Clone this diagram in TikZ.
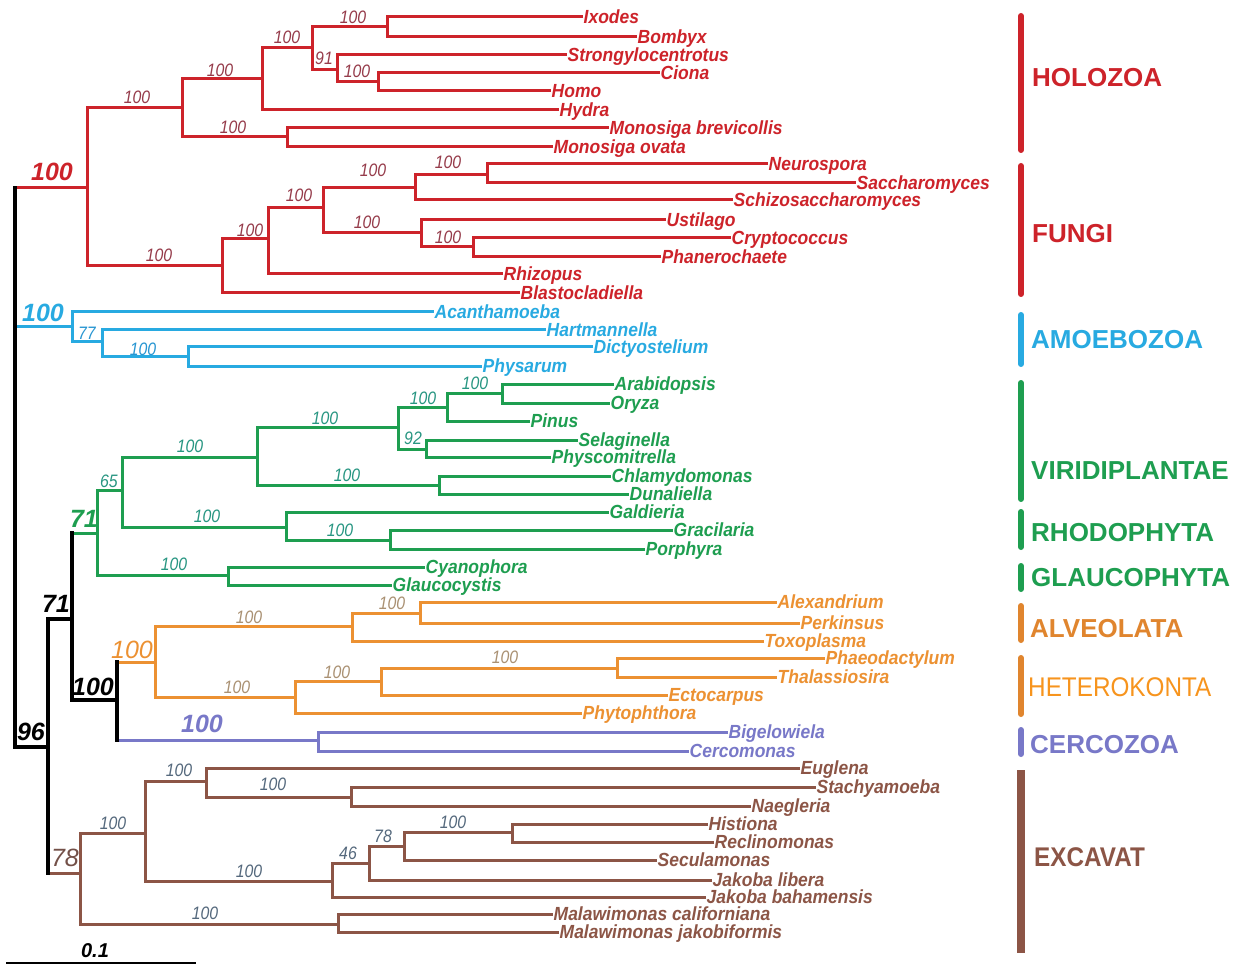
\documentclass[tikz,border=0pt]{standalone}
\usepackage{fontspec}
\setmainfont{Liberation Sans}
\newfontfamily\leaffam{Liberation Sans}[FakeStretch=0.92]
\newfontfamily\bsfam{Liberation Sans}[FakeStretch=0.88]
\newfontfamily\narfam{Liberation Sans}[FakeStretch=0.9]
\newcommand\leaffont{\leaffam\fontsize{19}{19}\selectfont\bfseries\itshape}
\newcommand\bsfont{\bsfam\fontsize{18}{18}\selectfont\itshape}
\newcommand\bbfont{\fontsize{25}{25}\selectfont\bfseries\itshape}
\newcommand\bbrfont{\fontsize{25}{25}\selectfont\itshape}
\newcommand\cladefont{\fontsize{26}{26}\selectfont\bfseries}
\definecolor{cred}{RGB}{205,35,42}
\definecolor{cblue}{RGB}{40,170,225}
\definecolor{cgreen}{RGB}{30,158,80}
\definecolor{corange}{RGB}{236,145,50}
\definecolor{calv}{RGB}{224,133,46}
\definecolor{chet}{RGB}{247,148,29}
\definecolor{cpurple}{RGB}{120,120,200}
\definecolor{cbrown}{RGB}{140,85,70}
\definecolor{lred}{RGB}{150,60,75}
\definecolor{lblue}{RGB}{40,150,210}
\definecolor{lgreen}{RGB}{40,150,130}
\definecolor{lorange}{RGB}{170,145,115}
\definecolor{lbrown}{RGB}{85,105,125}
\definecolor{bbrown}{RGB}{115,80,72}
\begin{document}
\begin{tikzpicture}[x=1pt,y=-1pt,
  br/.style={line width=3pt},
  blk/.style={line width=3.5pt,black,line cap=rect},
  leaf/.style={anchor=west,inner sep=0.5pt,font=\leaffont,text height=13.5pt,text depth=0pt},
  bs/.style={font=\bsfont,inner sep=0pt},
  bb/.style={font=\bbfont,inner sep=0pt},
  bbr/.style={font=\bbrfont,inner sep=0pt},
  clade/.style={anchor=west,inner sep=0pt,font=\cladefont,text height=18.6pt,text depth=0pt},
  cbar/.style={line width=6pt,line cap=round}]
\useasboundingbox (0,0) rectangle (1255,965);
\fill[white] (0,0) rectangle (1255,965);

% ---------- coordinates of internal nodes ----------
\coordinate (root) at (15,188);
\coordinate (opis) at (87,188);
\coordinate (holo) at (182,108);
\coordinate (h1) at (262,79);
\coordinate (h3) at (312,48);
\coordinate (h4) at (387,27);
\coordinate (h5) at (337,70);
\coordinate (h6) at (378,82);
\coordinate (h2) at (287,137);
\coordinate (fung) at (222,266);
\coordinate (f1) at (268,239);
\coordinate (f2) at (323,208);
\coordinate (f3) at (415,188);
\coordinate (f5) at (487,175);
\coordinate (f4) at (421,233);
\coordinate (f6) at (473,247);
\coordinate (amoe) at (72,327);
\coordinate (a1) at (102,342);
\coordinate (a2) at (188,357);
\coordinate (rest) at (48,747);
\coordinate (b1) at (72,619);
\coordinate (b2) at (117,700);
\coordinate (plant) at (97,533);
\coordinate (g1) at (122,490);
\coordinate (g2) at (257,457);
\coordinate (g3) at (398,427);
\coordinate (g5) at (447,407);
\coordinate (g7) at (502,393);
\coordinate (g6) at (426,449);
\coordinate (g4) at (439,485);
\coordinate (rhod) at (286,527);
\coordinate (r1) at (390,540);
\coordinate (glau) at (228,575);
\coordinate (sar) at (155,662);
\coordinate (alv) at (352,626);
\coordinate (al1) at (420,613);
\coordinate (het) at (295,697);
\coordinate (he1) at (381,681);
\coordinate (he2) at (617,668);
\coordinate (cerc) at (318,740);
\coordinate (exc) at (80,873);
\coordinate (e1) at (145,833);
\coordinate (e2) at (206,781);
\coordinate (e4) at (351,797);
\coordinate (e3) at (332,881);
\coordinate (e5) at (369,863);
\coordinate (e6) at (404,846);
\coordinate (e7) at (512,832);
\coordinate (mal) at (338,924);

% ---------- leaves ----------
\begin{scope}[every node/.style={leaf,text=cred}]
\node (ixo) at (583,17) {Ixodes};
\node (bom) at (637,37) {Bombyx};
\node (str) at (567,55) {Strongylocentrotus};
\node (cio) at (660,73) {Ciona};
\node (hom) at (551,91) {Homo};
\node (hyd) at (559,110) {Hydra};
\node (mbr) at (609,128) {Monosiga brevicollis};
\node (mov) at (553,147) {Monosiga ovata};
\node (neu) at (768,164) {Neurospora};
\node (sac) at (856,183) {Saccharomyces};
\node (sch) at (733,200) {Schizosaccharomyces};
\node (ust) at (666,220) {Ustilago};
\node (cry) at (731,238) {Cryptococcus};
\node (pha) at (661,257) {Phanerochaete};
\node (rhi) at (503,274) {Rhizopus};
\node (bla) at (520,293) {Blastocladiella};
\end{scope}
\begin{scope}[every node/.style={leaf,text=cblue}]
\node (aca) at (434,312) {Acanthamoeba};
\node (har) at (546,330) {Hartmannella};
\node (dic) at (593,347) {Dictyostelium};
\node (phy) at (482,366) {Physarum};
\end{scope}
\begin{scope}[every node/.style={leaf,text=cgreen}]
\node (ara) at (614,384) {Arabidopsis};
\node (ory) at (610,403) {Oryza};
\node (pin) at (530,421) {Pinus};
\node (sel) at (578,440) {Selaginella};
\node (phs) at (551,457) {Physcomitrella};
\node (chl) at (611,476) {Chlamydomonas};
\node (dun) at (629,494) {Dunaliella};
\node (gal) at (609,512) {Galdieria};
\node (gra) at (673,530) {Gracilaria};
\node (por) at (645,549) {Porphyra};
\node (cya) at (425,567) {Cyanophora};
\node (gla) at (392,585) {Glaucocystis};
\end{scope}
\begin{scope}[every node/.style={leaf,text=corange}]
\node (ale) at (777,602) {Alexandrium};
\node (per) at (800,623) {Perkinsus};
\node (tox) at (764,641) {Toxoplasma};
\node (phd) at (825,658) {Phaeodactylum};
\node (tha) at (777,677) {Thalassiosira};
\node (ect) at (668,695) {Ectocarpus};
\node (pht) at (582,713) {Phytophthora};
\end{scope}
\begin{scope}[every node/.style={leaf,text=cpurple}]
\node (big) at (728,732) {Bigelowiela};
\node (cer) at (689,751) {Cercomonas};
\end{scope}
\begin{scope}[every node/.style={leaf,text=cbrown}]
\node (eug) at (800,768) {Euglena};
\node (sta) at (816,787) {Stachyamoeba};
\node (nae) at (751,806) {Naegleria};
\node (his) at (708,824) {Histiona};
\node (rec) at (714,842) {Reclinomonas};
\node (sec) at (657,860) {Seculamonas};
\node (jli) at (712,880) {Jakoba libera};
\node (jba) at (706,897) {Jakoba bahamensis};
\node (mca) at (553,914) {Malawimonas californiana};
\node (mja) at (559,932) {Malawimonas jakobiformis};
\end{scope}

% ---------- branches ----------
\begin{scope}[br,cred]
\draw (root|-opis) -- (opis);
\draw (opis) |- (holo); \draw (opis) |- (fung);
\draw (holo) |- (h1); \draw (holo) |- (h2);
\draw (h1) |- (h3); \draw (h1) |- (hyd.west);
\draw (h3) |- (h4); \draw (h3) |- (h5);
\draw (h4) |- (ixo.west); \draw (h4) |- (bom.west);
\draw (h5) |- (str.west); \draw (h5) |- (h6);
\draw (h6) |- (cio.west); \draw (h6) |- (hom.west);
\draw (h2) |- (mbr.west); \draw (h2) |- (mov.west);
\draw (fung) |- (f1); \draw (fung) |- (bla.west);
\draw (f1) |- (f2); \draw (f1) |- (rhi.west);
\draw (f2) |- (f3); \draw (f2) |- (f4);
\draw (f3) |- (f5); \draw (f3) |- (sch.west);
\draw (f5) |- (neu.west); \draw (f5) |- (sac.west);
\draw (f4) |- (ust.west); \draw (f4) |- (f6);
\draw (f6) |- (cry.west); \draw (f6) |- (pha.west);
\end{scope}
\begin{scope}[br,cblue]
\draw (root|-amoe) -- (amoe);
\draw (amoe) |- (aca.west); \draw (amoe) |- (a1);
\draw (a1) |- (har.west); \draw (a1) |- (a2);
\draw (a2) |- (dic.west); \draw (a2) |- (phy.west);
\end{scope}
\begin{scope}[br,cgreen]
\draw (b1|-plant) -- (plant);
\draw (plant) |- (g1); \draw (plant) |- (glau);
\draw (g1) |- (g2); \draw (g1) |- (rhod);
\draw (g2) |- (g3); \draw (g2) |- (g4);
\draw (g3) |- (g5); \draw (g3) |- (g6);
\draw (g5) |- (g7); \draw (g5) |- (pin.west);
\draw (g7) |- (ara.west); \draw (g7) |- (ory.west);
\draw (g6) |- (sel.west); \draw (g6) |- (phs.west);
\draw (g4) |- (chl.west); \draw (g4) |- (dun.west);
\draw (rhod) |- (gal.west); \draw (rhod) |- (r1);
\draw (r1) |- (gra.west); \draw (r1) |- (por.west);
\draw (glau) |- (cya.west); \draw (glau) |- (gla.west);
\end{scope}
\begin{scope}[br,corange]
\draw (b2|-sar) -- (sar);
\draw (sar) |- (alv); \draw (sar) |- (het);
\draw (alv) |- (al1); \draw (alv) |- (tox.west);
\draw (al1) |- (ale.west); \draw (al1) |- (per.west);
\draw (het) |- (he1); \draw (het) |- (pht.west);
\draw (he1) |- (he2); \draw (he1) |- (ect.west);
\draw (he2) |- (phd.west); \draw (he2) |- (tha.west);
\end{scope}
\begin{scope}[br,cpurple]
\draw (b2|-cerc) -- (cerc);
\draw (cerc) |- (big.west); \draw (cerc) |- (cer.west);
\end{scope}
\begin{scope}[br,cbrown]
\draw (rest|-exc) -- (exc);
\draw (exc) |- (e1); \draw (exc) |- (mal);
\draw (e1) |- (e2); \draw (e1) |- (e3);
\draw (e2) |- (eug.west); \draw (e2) |- (e4);
\draw (e4) |- (sta.west); \draw (e4) |- (nae.west);
\draw (e3) |- (e5); \draw (e3) |- (jba.west);
\draw (e5) |- (e6); \draw (e5) |- (jli.west);
\draw (e6) |- (e7); \draw (e6) |- (sec.west);
\draw (e7) |- (his.west); \draw (e7) |- (rec.west);
\draw (mal) |- (mca.west); \draw (mal) |- (mja.west);
\end{scope}
% black backbone
\draw[blk] (root) -- (root|-rest);
\draw[blk] (root|-rest) -- (rest);
\draw[blk] (rest|-b1) -- (rest|-exc);
\draw[blk] (rest|-b1) -- (b1);
\draw[blk] (b1|-plant) -- (b1|-b2);
\draw[blk] (b1|-b2) -- (b2);
\draw[blk] (b2|-sar) -- (b2|-cerc);

% ---------- support values ----------
\foreach \x/\y/\t [count=\i] in {137/97/100,220/70/100,287/37/100,353/17/100,324/58/91,357/71/100,233/127/100,159/255/100,250/230/100,299/195/100,373/170/100,448/162/100,367/222/100,448/237/100}
  \node[bs,text=lred] (lr\i) at (\x,\y) {\t};
\foreach \x/\y/\t [count=\i] in {87/333/77,143/349/100}
  \node[bs,text=lblue] (lbl\i) at (\x,\y) {\t};
\foreach \x/\y/\t [count=\i] in {109/481/65,190/446/100,325/418/100,423/398/100,475/383/100,413/438/92,347/475/100,207/516/100,340/530/100,174/564/100}
  \node[bs,text=lgreen] (lg\i) at (\x,\y) {\t};
\foreach \x/\y/\t [count=\i] in {249/617/100,392/603/100,237/687/100,337/672/100,505/657/100}
  \node[bs,text=lorange] (lo\i) at (\x,\y) {\t};
\foreach \x/\y/\t [count=\i] in {113/823/100,179/770/100,273/784/100,249/871/100,205/913/100,348/853/46,383/836/78,453/822/100}
  \node[bs,text=lbrown] (lbr\i) at (\x,\y) {\t};
\node[bb,text=cred] (Lopis) at (52,172) {100};
\node[bb,text=cblue] (Lamoe) at (43,313) {100};
\node[bb,text=cgreen] (Lplant) at (84,519) {71};
\node[bbr,text=corange] (Lsar) at (132,650) {100};
\node[bb,text=cpurple] (Lcerc) at (202,724) {100};
\node[bbr,text=bbrown] (Lexc) at (65,858) {78};
\node[bb,text=black] (Lb1) at (56,604) {71};
\node[bb,text=black] (Lb2) at (93,687) {100};
\node[bb,text=black] (Lrest) at (31,732) {96};

% ---------- scale bar ----------
\coordinate (sb1) at (6,963);
\coordinate (sb2) at (196,963);
\draw[line width=2pt] (sb1) -- (sb2);
\node[font=\fontsize{20}{20}\selectfont\bfseries\itshape,inner sep=0pt] (sbl) at (95,951) {0.1};

% ---------- clade bars ----------
\draw[cbar,cred] (1021,16) -- (1021,150);
\draw[cbar,cred] (1021,166) -- (1021,294);
\draw[cbar,cblue] (1021,315) -- (1021,364);
\draw[cbar,cgreen] (1021,383) -- (1021,499);
\draw[cbar,cgreen] (1021,512) -- (1021,547);
\draw[cbar,cgreen] (1021,566) -- (1021,589);
\draw[cbar,calv] (1021,606) -- (1021,640);
\draw[cbar,calv] (1021,658) -- (1021,714);
\draw[cbar,cpurple] (1021,730) -- (1021,754);
\draw[line width=8pt,cbrown] (1021,770) -- (1021,953);
\node[clade,text=cred] (cHolo) at (1032,77) {HOLOZOA};
\node[clade,text=cred] (cFungi) at (1032,233) {FUNGI};
\node[clade,text=cblue] (cAmoe) at (1031,339) {AMOEBOZOA};
\node[clade,text=cgreen] (cViri) at (1031,470) {VIRIDIPLANTAE};
\node[clade,text=cgreen] (cRhod) at (1031,532) {RHODOPHYTA};
\node[clade,text=cgreen] (cGlau) at (1031,577) {GLAUCOPHYTA};
\node[clade,text=calv] (cAlv) at (1030,628) {ALVEOLATA};
\node[clade,text=chet,font=\narfam\fontsize{27}{27}\selectfont,text height=19.3pt] (cHet) at (1028,687) {HETEROKONTA};
\node[clade,text=cpurple] (cCerc) at (1030,744) {CERCOZOA};
\node[clade,text=cbrown,font=\narfam\fontsize{27}{27}\selectfont\bfseries,text height=19.3pt] (cExc) at (1034,857) {EXCAVAT};
\end{tikzpicture}
\end{document}
